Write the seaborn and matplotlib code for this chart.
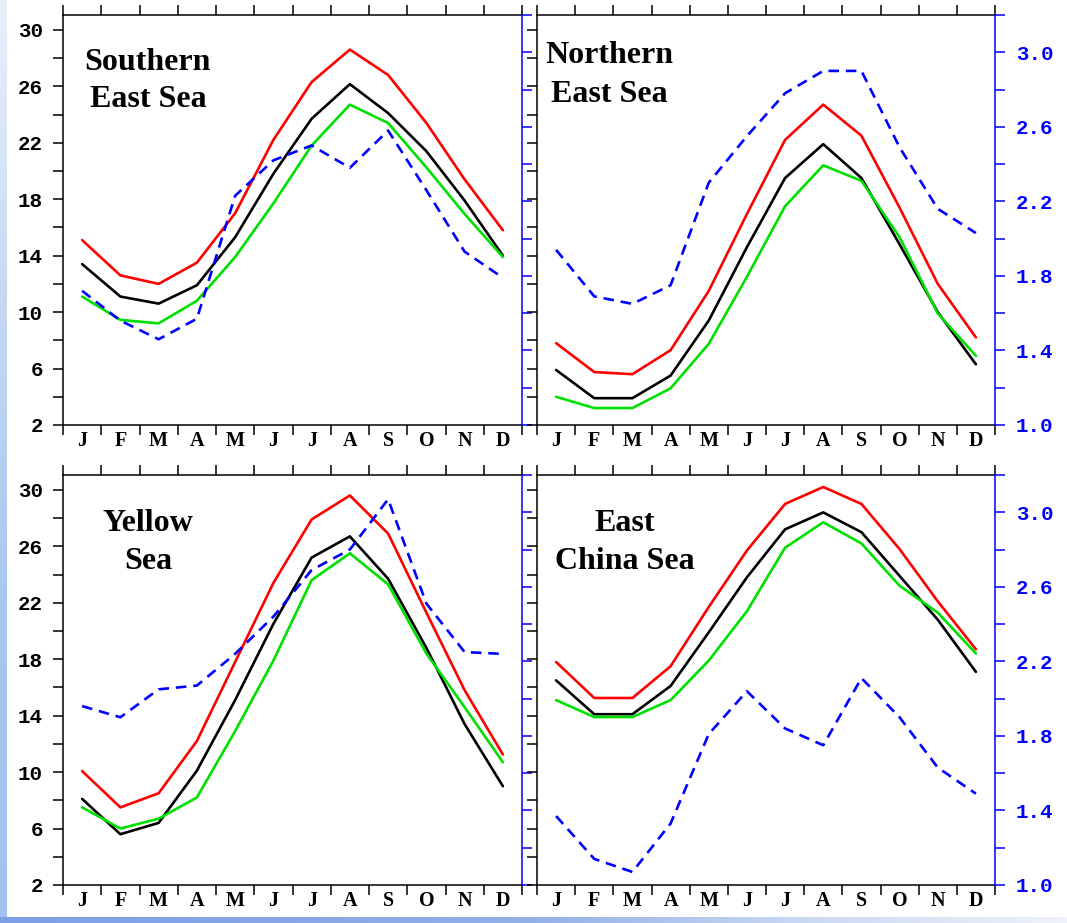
import numpy as np
import pandas as pd
import matplotlib
matplotlib.use("Agg")
import matplotlib.pyplot as plt
from matplotlib.colors import LinearSegmentedColormap
import seaborn as sns

# ---- data -------------------------------------------------------------
months = ["J", "F", "M", "A", "M", "J", "J", "A", "S", "O", "N", "D"]

# Southern East Sea
ses_red = [15.1, 12.6, 12.0, 13.5, 17.0, 22.2, 26.3, 28.6, 26.8, 23.4, 19.4, 15.8]
ses_black = [13.4, 11.1, 10.6, 11.9, 15.3, 19.8, 23.7, 26.15, 24.1, 21.4, 17.9, 14.0]
ses_green = [11.1, 9.45, 9.2, 10.8, 13.9, 17.7, 21.8, 24.7, 23.4, 20.25, 16.95, 13.9]
ses_blue = [1.72, 1.56, 1.46, 1.57, 2.23, 2.42, 2.50, 2.38, 2.58, 2.26, 1.93, 1.79]

# Northern East Sea
nes_red = [7.8, 5.75, 5.6, 7.3, 11.5, 16.95, 22.2, 24.7, 22.5, 17.4, 12.0, 8.2]
nes_black = [5.9, 3.9, 3.9, 5.5, 9.4, 14.6, 19.5, 21.9, 19.5, 14.8, 10.0, 6.3]
nes_green = [4.0, 3.2, 3.2, 4.6, 7.75, 12.5, 17.5, 20.4, 19.3, 15.3, 9.9, 6.9]
nes_blue = [1.94, 1.69, 1.65, 1.75, 2.30, 2.55, 2.78, 2.90, 2.90, 2.49, 2.16, 2.03]

# Yellow Sea
ys_red = [10.07, 7.5, 8.5, 12.2, 17.8, 23.4, 27.9, 29.6, 26.9, 21.3, 15.8, 11.25]
ys_black = [8.1, 5.6, 6.4, 10.1, 15.1, 20.5, 25.2, 26.7, 23.7, 18.8, 13.4, 9.0]
ys_green = [7.5, 6.0, 6.7, 8.2, 12.9, 17.9, 23.6, 25.5, 23.3, 18.4, 14.6, 10.7]
ys_blue = [1.96, 1.90, 2.05, 2.07, 2.24, 2.44, 2.69, 2.80, 3.07, 2.51, 2.25, 2.24]

# East China Sea
ecs_red = [17.8, 15.25, 15.25, 17.5, 21.7, 25.7, 29.0, 30.2, 29.0, 25.8, 22.1, 18.7]
ecs_black = [16.5, 14.1, 14.1, 16.1, 19.9, 23.8, 27.2, 28.4, 27.0, 23.9, 20.8, 17.1]
ecs_green = [15.1, 13.9, 13.9, 15.1, 17.9, 21.4, 25.9, 27.7, 26.2, 23.2, 21.3, 18.4]
ecs_blue = [1.37, 1.14, 1.07, 1.33, 1.81, 2.04, 1.84, 1.75, 2.11, 1.90, 1.63, 1.49]

panel_titles = [("Southern", "East Sea"), ("Northern", "East Sea"),
                ("Yellow", "Sea"), ("East", "China Sea")]

temp_ticks = [2, 6, 10, 14, 18, 22, 26, 30]
right_ticks = [1.0, 1.4, 1.8, 2.2, 2.6, 3.0]

# ---- style ------------------------------------------------------------
sns.set_theme(style="ticks")
plt.rcParams["font.family"] = ["Liberation Mono", "DejaVu Sans"]
plt.rcParams["axes.linewidth"] = 1.1

RED, BLACK, GREEN, BLUE = "#ff0000", "#000000", "#00e000", "#0000ff"
LW = 1.9

W, H = 1067, 923
fig = plt.figure(figsize=(W / 100, H / 100), dpi=100, facecolor="white")

# decorative light-blue frame strips
left_cmap = LinearSegmentedColormap.from_list(
    "lstrip", ["#e8f0fb", "#c4d8f4", "#a8c6ef", "#a2c2ee"])
sa = fig.add_axes([0, 0, 7 / W, 1])
sa.imshow(np.linspace(0, 1, 256)[:, None], aspect="auto", cmap=left_cmap)
sa.axis("off")
bot_cmap = LinearSegmentedColormap.from_list(
    "bstrip", ["#7c9fe5", "#86a6e6", "#93b0e8", "#c9d8f2", "#eef2f9"])
sb = fig.add_axes([0, 0, 1, 6 / H])
sb.imshow(np.linspace(0, 1, 256)[None, :], aspect="auto", cmap=bot_cmap)
sb.axis("off")

# panel boxes in pixels: left, top, right, bottom
boxes = [(63, 15, 522, 425), (537, 15, 995, 425),
         (63, 475, 522, 885), (537, 475, 995, 885)]
title_pos = [(0.185, 0.866, 0.776), (0.157, 0.883, 0.788),
             (0.185, 0.864, 0.770), (0.191, 0.864, 0.770)]

series = [
    (ses_red, ses_black, ses_green, ses_blue),
    (nes_red, nes_black, nes_green, nes_blue),
    (ys_red, ys_black, ys_green, ys_blue),
    (ecs_red, ecs_black, ecs_green, ecs_blue),
]

xpos = np.arange(12) + 0.5

for i, (box, (red, black, green, blue)) in enumerate(zip(boxes, series)):
    l, t, r, b = box
    ax = fig.add_axes([l / W, 1 - b / H, (r - l) / W, (b - t) / H])
    ax.set_facecolor("white")
    df = pd.DataFrame({"x": xpos, "red": red, "black": black,
                       "green": green, "blue": blue})

    for col, c in (("red", RED), ("black", BLACK), ("green", GREEN)):
        sns.lineplot(data=df, x="x", y=col, ax=ax, color=c, lw=LW)

    ax.set_xlim(0, 12)
    ax.set_ylim(2, 31.05)
    ax.set_xlabel("")
    ax.set_ylabel("")

    # x axis: ticks at month boundaries, letters at month centres
    ax.set_xticks(np.arange(13))
    ax.set_xticks(xpos, minor=True)
    ax.set_xticklabels([], minor=False)
    ax.set_xticklabels(months, minor=True, fontfamily="Liberation Serif",
                       fontweight="bold", fontsize=14.5)
    ax.tick_params(axis="x", which="major", direction="out", length=7,
                   width=1.1, top=True, bottom=True, color=BLACK)
    ax.tick_params(axis="x", which="minor", length=0, pad=4,
                   top=False, bottom=True, labelcolor=BLACK)

    # temperature axis
    ax.set_yticks(temp_ticks)
    ax.set_yticks(np.arange(4, 30, 4), minor=True)
    ax.tick_params(axis="y", which="both", direction="out", length=7,
                   width=1.1, left=True, right=False, color=BLACK,
                   labelsize=15, pad=7.5, labelcolor=BLACK)
    for lab in ax.get_yticklabels():
        lab.set_fontweight("bold")
    if i % 2 == 1:
        ax.tick_params(axis="y", which="both", labelleft=False)

    for s in ("left", "top", "bottom"):
        ax.spines[s].set_color(BLACK)
        ax.spines[s].set_linewidth(1.1)
    ax.spines["right"].set_visible(False)

    # second axis for the dashed blue series
    ax2 = ax.twinx()
    sns.lineplot(data=df, x="x", y="blue", ax=ax2, color=BLUE, lw=LW,
                 linestyle=(0, (4.0, 2.6)))
    ax2.set_ylim(1.0, 3.2)
    ax2.set_ylabel("")
    ax2.set_yticks(right_ticks)
    ax2.set_yticks(np.arange(1.2, 3.21, 0.4), minor=True)
    ax2.set_yticklabels([f"{v:.1f}" for v in right_ticks],
                        fontweight="bold")
    ax2.tick_params(axis="y", which="both", direction="out", length=7,
                    width=1.1, color=BLUE, labelcolor=BLUE, labelsize=15,
                    pad=8)
    if i % 2 == 0:
        ax2.tick_params(axis="y", which="both", labelright=False)
    for s in ("left", "top", "bottom"):
        ax2.spines[s].set_visible(False)
    ax2.spines["right"].set_color(BLUE)
    ax2.spines["right"].set_linewidth(1.1)

    tx, y1, y2 = title_pos[i]
    line1, line2 = panel_titles[i]
    for txt, yy in ((line1, y1), (line2, y2)):
        ax.text(tx, yy, txt, transform=ax.transAxes, ha="center",
                va="baseline", fontsize=23, fontweight="bold",
                fontfamily="Liberation Serif", color=BLACK)

fig.savefig("out.png", dpi=100, facecolor="white")
